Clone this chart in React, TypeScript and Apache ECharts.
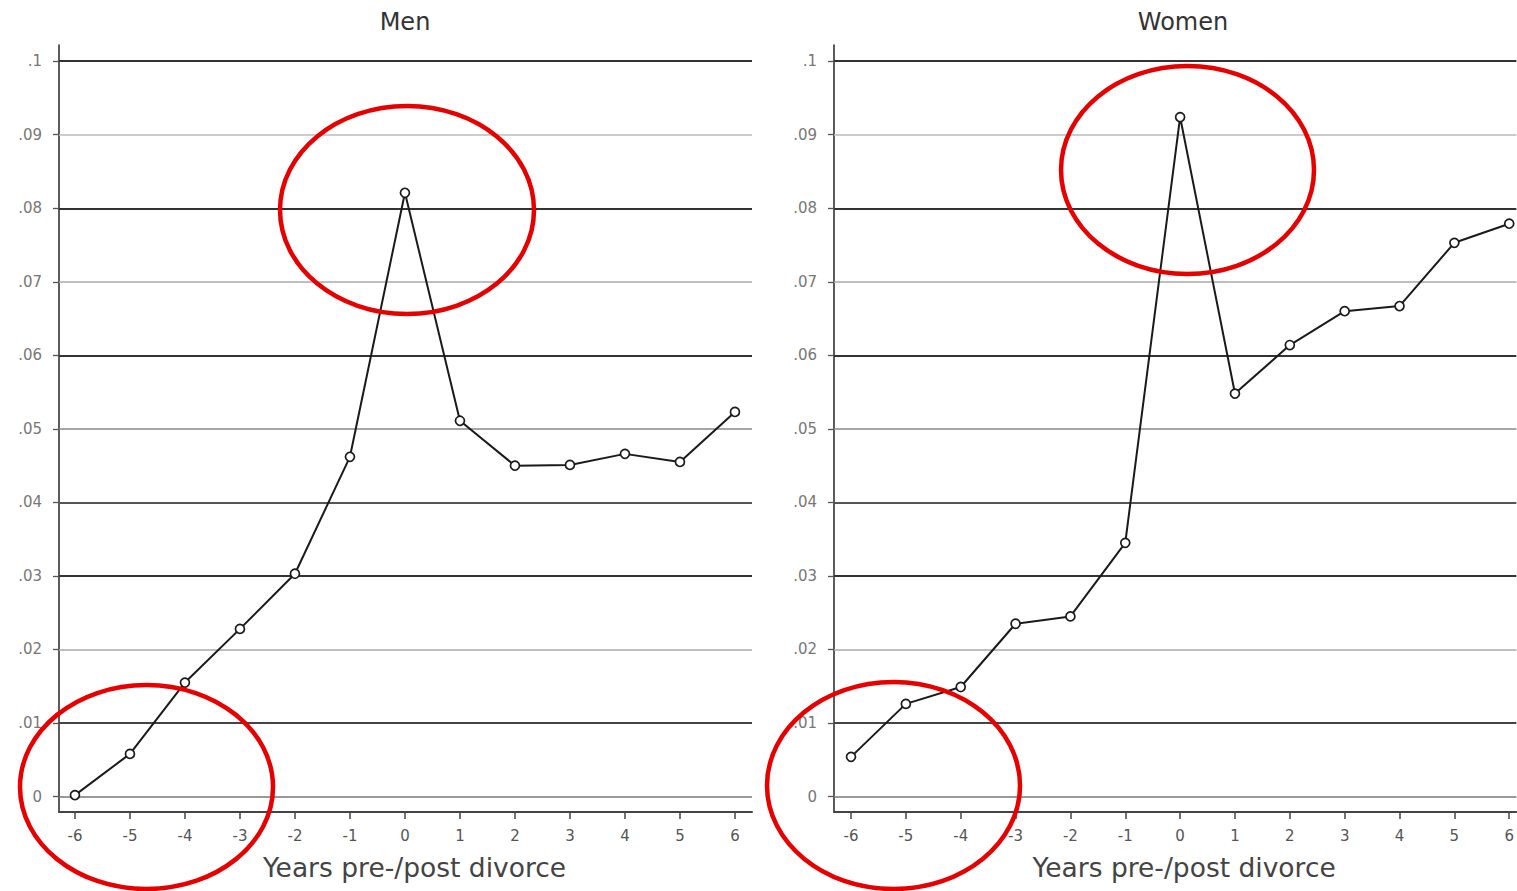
import React, { useEffect, useRef } from "react";
import * as echarts from "echarts";

const years = [-6, -5, -4, -3, -2, -1, 0, 1, 2, 3, 4, 5, 6];
const menRates = [0.0002, 0.0058, 0.0155, 0.0228, 0.0303, 0.0462, 0.0821, 0.0511, 0.045, 0.0451, 0.0466, 0.0455, 0.0523];
const womenRates = [0.0054, 0.0126, 0.0149, 0.0235, 0.0245, 0.0345, 0.0924, 0.0548, 0.0614, 0.066, 0.0667, 0.0753, 0.0779];
const yTicks = [0, 0.01, 0.02, 0.03, 0.04, 0.05, 0.06, 0.07, 0.08, 0.09, 0.1];
const panelTitles = ["Men", "Women"];
const xTitle = "Years pre-/post divorce";

const gridTone = [
  { color: "#777", width: 1.5 },
  { color: "#444", width: 1.8 },
  { color: "#aaa", width: 1.5 },
  { color: "#333", width: 2 },
  { color: "#555", width: 1.8 },
  { color: "#888", width: 1.5 },
  { color: "#333", width: 2 },
  { color: "#aaa", width: 1.5 },
  { color: "#333", width: 2 },
  { color: "#bbb", width: 1.5 },
  { color: "#333", width: 2 },
];

const fmtY = (v: number) => {
  if (Math.abs(v) < 1e-9) return "0";
  return String(Math.round(v * 100) / 100).replace(/^0/, "");
};

export default function App() {
  const ref = useRef<HTMLDivElement>(null);
  useEffect(() => {
    if (!ref.current) return;
    const chart = echarts.init(ref.current, null, { renderer: "svg" });
    const font = "DejaVu Sans, sans-serif";
    const xAxisBase = (min: number, max: number, idx: number) => ({
      type: "value",
      gridIndex: idx,
      min,
      max,
      name: xTitle,
      nameLocation: "middle",
      nameGap: 42,
      nameTextStyle: { fontFamily: font, fontSize: 26.5, color: "#444", padding: [0, 0, 0, 18] },
      axisLine: { show: true, onZero: false, lineStyle: { color: "#444", width: 2 } },
      axisTick: { show: true, customValues: years, length: 7, lineStyle: { color: "#444", width: 1.5 } },
      axisLabel: { customValues: years, margin: 16, fontFamily: font, fontSize: 15, color: "#555" },
      splitLine: { show: false },
    });
    const yAxisBase = (idx: number) => ({
      type: "value",
      gridIndex: idx,
      min: -0.0021,
      max: 0.1022,
      axisLine: { show: true, onZero: false, lineStyle: { color: "#333", width: 1.6 } },
      axisTick: { show: true, customValues: yTicks, length: 6, lineStyle: { color: "#555", width: 1.3 } },
      axisLabel: { customValues: yTicks, margin: 17, formatter: fmtY, fontFamily: font, fontSize: 15, color: "#777" },
      splitLine: { show: false },
    });
    const gridSeries = (idx: number) => ({
      type: "line",
      xAxisIndex: idx,
      yAxisIndex: idx,
      data: [],
      z: 1,
      silent: true,
      markLine: {
        silent: true,
        symbol: "none",
        label: { show: false },
        animation: false,
        data: yTicks.map((v, i) => ({ yAxis: v, lineStyle: { type: "solid", color: gridTone[i].color, width: gridTone[i].width } })),
      },
    });
    const dataSeries = (idx: number, vals: number[]) => ({
      type: "line",
      xAxisIndex: idx,
      yAxisIndex: idx,
      z: 5,
      data: years.map((y, i) => [y, vals[i]]),
      symbol: "circle",
      symbolSize: 9,
      showSymbol: true,
      lineStyle: { color: "#1a1a1a", width: 2 },
      itemStyle: { color: "#fff", borderColor: "#1a1a1a", borderWidth: 1.7 },
    });
    const ell = (cx: number, cy: number, rx: number, ry: number) => ({
      type: "ellipse",
      z: 100,
      shape: { cx, cy, rx, ry },
      style: { fill: "none", stroke: "#e60000", lineWidth: 4.5 },
      silent: true,
    });
    chart.setOption({
      animation: false,
      backgroundColor: "#fff",
      grid: [
        { left: 59, right: 765, top: 45, bottom: 79, containLabel: false },
        { left: 834, right: 0, top: 45, bottom: 79, containLabel: false },
      ],
      xAxis: [xAxisBase(-6.29, 6.31, 0), xAxisBase(-6.31, 6.13, 1)],
      yAxis: [yAxisBase(0), yAxisBase(1)],
      series: [gridSeries(0), gridSeries(1), dataSeries(0, menRates), dataSeries(1, womenRates)],
      graphic: [
        { type: "text", x: 405, y: 22, style: { text: panelTitles[0], align: "center", verticalAlign: "middle", font: `24px ${font}`, fill: "#333" } },
        { type: "text", x: 1183, y: 22, style: { text: panelTitles[1], align: "center", verticalAlign: "middle", font: `24px ${font}`, fill: "#333" } },
        ell(407, 210, 127, 104),
        ell(146.5, 787, 126.5, 102),
        ell(1187.5, 170, 126.5, 104),
        ell(893.5, 785.5, 126.5, 103.5),
      ],
    });
    return () => chart.dispose();
  }, []);
  return <div ref={ref} style={{ position: "absolute", left: 0, top: 0, width: 1517, height: 891 }} />;
}
